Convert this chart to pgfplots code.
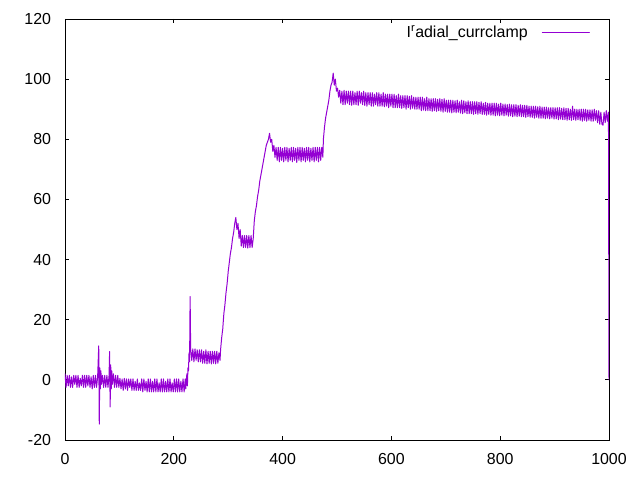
\documentclass[border=0pt]{standalone}
\usepackage{fontspec}
\setmainfont{Liberation Sans}
\usepackage{pgfplots}
\pgfplotsset{compat=1.18}
\definecolor{gpviolet}{HTML}{9400D3}
\begin{document}
\fontsize{16}{19}\selectfont
\begin{tikzpicture}
\begin{axis}[
  scale only axis, width=544bp, height=421bp,
  xmin=0, xmax=1000, ymin=-20, ymax=120,
  xtick={0,200,...,1000}, ytick={-20,0,...,120},
  tick align=inside, major tick length=4.5bp,
  axis line style={black, line width=0.9bp},
  tick style={black, line width=0.8bp},
  /pgf/number format/assume math mode=true,
  /pgf/number format/1000 sep={},
  tick label style={font=\fontsize{16}{19}\selectfont},
  xticklabel style={yshift=-7.5bp},
  yticklabel style={xshift=-8.5bp},
  legend plot pos=right,
  legend style={draw=none, fill=none, inner sep=0pt, anchor=east,
    at={(rel axis cs:0.965,0.967)}, font=\fontsize{16}{19}\selectfont,
    /tikz/every odd column/.append style={column sep=12bp}},
  legend image code/.code={\draw[#1] (0bp,0bp) -- (47bp,0bp);},
]
\coordinate (bl) at (rel axis cs:0,0);
\addplot[gpviolet, line width=1bp, line join=round, line cap=round, mark=none] coordinates {
(0,2)(2,-2.5)(4,1.5)(6,-2)(8,1.5)(10,-2.5)(12,1)(14,-2.5)(16,1.5)(18,-1.5)(20,1.5)(22,-2.5)(24,1.5)(26,-2.5)(28,0.5)(30,-2)(32,1.5)(34,-2.5)
(36,1.5)(38,-2.5)(40,1.5)(42,-2)(44,1.5)(46,-2.5)(48,1)(50,-3)(52,1.5)(54,-2.5)(56,1.5)(58,-2.5)(60,1)
(62,11.3)(63,-14.7)(64,4)(65,-3)(66,3)(67,-1.5)
(69,1.5)(71,-2.5)(73,1.5)(75,-2.5)(77,1.5)(79,-2.5)(81,1.5)(82,9.4)(83,-9)(84,5)(85,-3)(86,3)(87,-1.5)(89,2)(91,-2.5)(93,1.5)(95,-2.5)(97,1.5)
(99,-2.5)(101,0.5)(103,-3)(105,0.3)(107,-3.5)(109,0.5)(111,-3)(113,0.3)(115,-3.5)(117,0.3)(119,-2.5)(121,0.3)(123,-3.5)(125,0.3)(127,-3.5)
(129,-0.5)(131,-3.5)(133,0.3)(135,-3.5)(137,-1)(139,-3.5)(141,0.3)(143,-4)(145,0.3)(147,-3.5)(149,-0.5)(151,-4)(153,0.3)(155,-4)(157,0.3)
(159,-4)(161,-0.5)(163,-4)(165,0.3)(167,-4)(169,0.3)(171,-4)(173,-1)(175,-4)(177,0.3)(179,-4)(181,0.3)(183,-4)(185,-0.5)(187,-4)(189,0.3)
(191,-4)(193,0.3)(195,-4)(197,-1)(199,-4)(201,0.3)(203,-4)(205,0.3)(207,-4)(209,0.3)(211,-4)(213,-0.5)(215,-4)(217,0.3)(219,-4)(221,0.3)(222,-3)
(224,2)(225,-2)(226,4)(227,3)(228,9)(229,6)(230,27.7)(231,10.3)(233,6.5)(235,10.3)(237,6)(239,10.3)(241,6.5)(243,10)(245,6)(247,10)(249,6)
(251,10)(253,5.5)(255,9.5)(257,5.5)(259,10)(261,5.3)(263,9.5)(265,5.5)(267,9.5)(269,5.3)(271,9.5)(273,5.5)(275,9.5)(277,5.3)(279,9.5)(281,5.5)
(283,9)(285,6.5)
(286,10)(288,14)(290,17)(292,22)(294,25)(296,29)(298,32)(300,36)(302,39)(304,42)(306,44)(308,47)(310,49)(312,52)(314,54)(316,50)(318,52)(320,47)
(322,50)(324,44.5)(326,48)(328,44)(330,48)(332,44)(334,48)(336,43.8)(338,48)(340,44)(342,48)(344,44)(346,47)
(348,53)(350,56)(352,58)(354,61)(356,63)(358,66)(360,68)(362,70)(364,72)(366,74)(368,76)(370,78)(372,79)(374,80)(376,82)(378,79)(380,80)(382,76)
(384,78)(386,74)
(388,77.3)(390,73)(392,77.3)(394,72.5)(396,77.3)(398,73)(400,77)(402,72.5)(404,77.3)(406,73)(408,77.3)(410,72.5)(412,77)(414,73)(416,77.3)
(418,72.5)(420,77.3)(422,73)(424,77)(426,72.3)(428,77.3)(430,73)(432,77.3)(434,72.5)(436,77.3)(438,73)(440,77)(442,72.5)(444,77.3)(446,73)
(448,77.3)(450,72.5)(452,77)(454,73)(456,77.3)(458,72.5)(460,77.3)(462,73)(464,77.3)(466,72.5)(468,77.3)(470,73)(472,77.3)(474,74)
(475,80)(477,84)(479,87)(481,89)(483,91)(485,93)(487,96)(489,98)(491,99)(493,102)(495,98)(497,100)(499,96)(501,97)(503,94)
(505,96.3)(507,92)(509,96)(511,91.5)(513,96.3)(515,91.5)(517,96)(519,92)(521,96)(523,91.5)(525,96)(527,91.3)(529,96)(531,91.5)(533,95.5)
(535,91.5)(537,96)(539,91.3)(541,96)(543,92)(545,95.5)(547,91.5)(549,96)(551,91.3)(553,95.5)
(555,91)(557,95.5)(559,91.5)(561,95.5)(563,91)(565,95.5)(567,91)(569,95)(571,91.5)(573,95.5)(575,91)(577,95.5)(579,91)(581,95)(583,91)(585,95.5)
(587,90.8)(589,95)(591,91)(593,95)(595,90.5)(597,95)(599,91)(601,95)(603,90.5)
(605,95)(607,90.5)(609,94.5)(611,90.5)(613,95)(615,90.5)(617,94.5)(619,90.3)(621,94.5)(623,90.5)(625,94.5)(627,90)(629,94.5)(631,90.5)(633,94.3)
(635,90)(637,94.5)(639,90.3)(641,94)(643,90)(645,94)(647,90)(649,94)(651,90)(653,94)
(655,89.5)(657,94)(659,89.7)(661,93.5)(663,89.5)(665,94)(667,89.5)(669,93.5)(671,89.5)(673,93.5)(675,89.3)(677,93.5)(679,89.5)(681,93.5)
(683,89.3)(685,93.3)(687,89.5)(689,93.5)(691,89.3)(693,93.3)(695,89)(697,93.5)(699,89.3)(701,93)(703,89)
(705,93)(707,89)(709,93)(711,88.8)(713,93)(715,89)(717,92.8)(719,88.8)(721,93)(723,89)(725,92.5)(727,88.7)(729,93)(731,88.5)(733,92.8)
(735,88.8)(737,92.5)(739,88.5)(741,92.8)(743,88.5)(745,92.5)(747,88.5)(749,92.5)(751,88.3)(753,92.5)
(755,88.5)(757,92.5)(759,88.3)(761,92.3)(763,88.5)(765,92.5)(767,88.3)(769,92)(771,88.3)(773,92.3)(775,88)(777,92)(779,88.3)(781,92)(783,88)
(785,92)(787,88)(789,92)(791,87.8)(793,92)(795,88)(797,91.7)(799,87.8)(801,92)(803,88)
(805,91.7)(807,87.8)(809,91.7)(811,88)(813,91.5)(815,87.7)(817,91.7)(819,87.8)(821,91.5)(823,87.5)(825,91.5)(827,87.7)(829,91.5)(831,87.5)
(833,91.3)(835,87.7)(837,91.5)(839,87.5)(841,91.3)(843,87.5)(845,91.3)(847,87.3)(849,91.3)(851,87.5)(853,91)
(855,87.3)(857,91)(859,87.3)(861,91)(863,87)(865,91)(867,87.3)(869,90.8)(871,87)(873,91)(875,87)(877,90.7)(879,87)(881,90.7)(883,86.8)
(885,90.7)(887,87)(889,90.5)(891,86.8)(893,90.5)(895,87)(897,90.5)(899,86.7)(901,90.5)(903,86.8)
(905,90.5)(907,86.5)(909,90.5)(911,86.7)(913,90.3)(915,86.5)(917,90.5)(919,86.5)(921,90.3)(923,86.3)(925,90.3)(927,86.5)(929,90)(931,86.3)
(933,91)(935,86.5)(937,90)(939,86.3)(941,90)(943,86.5)(945,90)(947,86.3)(949,90)(951,86)(953,90)
(955,86.3)(957,90)(959,86)(961,89.8)(963,86.3)(965,89.8)(967,86)(969,89.8)(971,86)(973,90)(975,86.3)(977,89.5)(979,85.5)(981,89.5)(983,85)
(985,89)(987,85)(989,84.7)(991,89)(993,85.5)(995,89.5)(997,86)(999,89)(1000,0)
};
\addlegendentry{I\textsuperscript{r}adial\_currclamp}
\end{axis}
\pgfresetboundingbox
\path[use as bounding box] ([shift={(-65bp,-40bp)}]bl) rectangle ++(640bp,480bp);
\end{tikzpicture}
\end{document}
